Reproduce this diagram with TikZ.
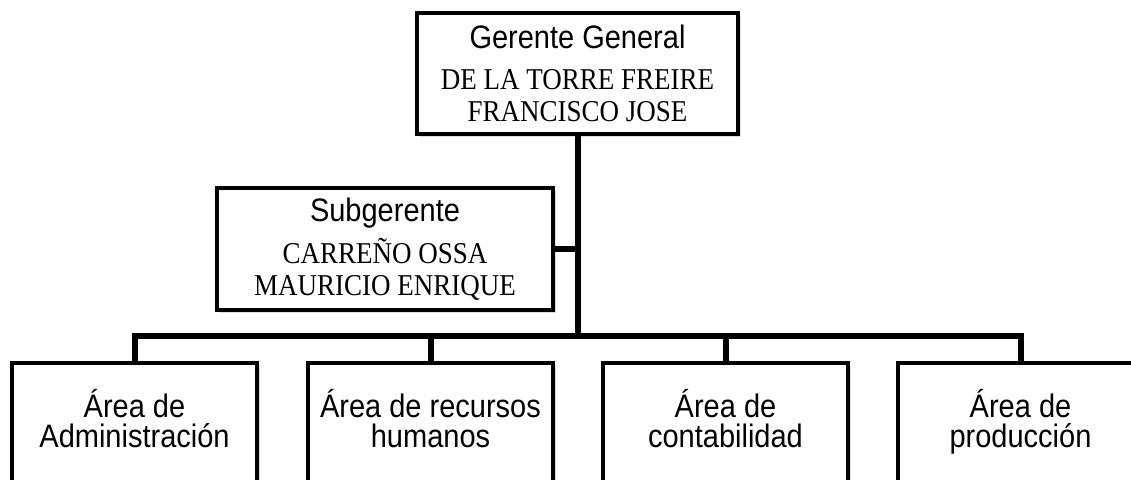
\documentclass[tikz,border=0pt]{standalone}
\usepackage{graphicx}
\usepackage{fontspec}
\setmainfont{Liberation Sans}
\newfontfamily\namefont{Liberation Serif}
\usetikzlibrary{shadows}

\newcommand{\tall}[1]{\scalebox{1}[1.12]{#1}}
\newcommand{\headline}[1]{\tall{\fontsize{29}{32}\selectfont #1}}
\newcommand{\nameline}[1]{\tall{\namefont\fontsize{27}{32}\selectfont #1}}

\begin{document}
\begin{tikzpicture}[x = 1pt, y = -1pt,
	box/.style = {draw = black, line width = 4pt, fill = white, inner sep = 0pt, align = center,
		font = \fontsize{29}{32}\selectfont,
		drop shadow = {shadow xshift = 3pt, shadow yshift = -3pt, opacity = .25}},
	areabox/.style = {box, minimum width = 245pt, minimum height = 220pt, anchor = north},
	areatext/.style = {align = center, inner sep = 0pt, anchor = base, font = \fontsize{29}{30}\selectfont},
	bar/.style = {line width = 6pt}]
	\useasboundingbox (0, 0) rectangle (1131, 479);
	\node (gg) at (577.5, 73.5) [box, minimum width = 321pt, minimum height = 121pt]
		{\headline{Gerente General}\\[9pt]\nameline{DE LA TORRE FREIRE}\\\nameline{FRANCISCO JOSE}};
	\node (sg) at (385, 249) [box, minimum width = 336pt, minimum height = 122pt]
		{\headline{Subgerente}\\[9pt]\nameline{CARREÑO OSSA}\\\nameline{MAURICIO ENRIQUE}};
	\coordinate (hub) at (577.5, 336);
	\node (a1) at (134.5, 361) [areabox] {};
	\node (a2) at (430.5, 361) [areabox] {};
	\node (a3) at (725.5, 361) [areabox] {};
	\node (a4) at (1020.5, 361) [areabox] {};
	\node (t1) at (134.5, 447) [areatext] {\tall{Área de}\\\tall{Administración}};
	\node (t2) at (430.5, 447) [areatext] {\tall{Área de recursos}\\\tall{humanos}};
	\node (t3) at (725.5, 447) [areatext] {\tall{Área de}\\\tall{contabilidad}};
	\node (t4) at (1020.5, 447) [areatext] {\tall{Área de}\\\tall{producción}};
	\draw[bar] (gg.south) -- (hub);
	\draw[bar] (sg.east) -- (sg.east -| gg.south);
	\draw[bar] (a1.north) -- (a1.north |- hub) -- (a4.north |- hub) -- (a4.north);
	\draw[bar] (a2.north) -- (a2.north |- hub);
	\draw[bar] (a3.north) -- (a3.north |- hub);
\end{tikzpicture}
\end{document}
